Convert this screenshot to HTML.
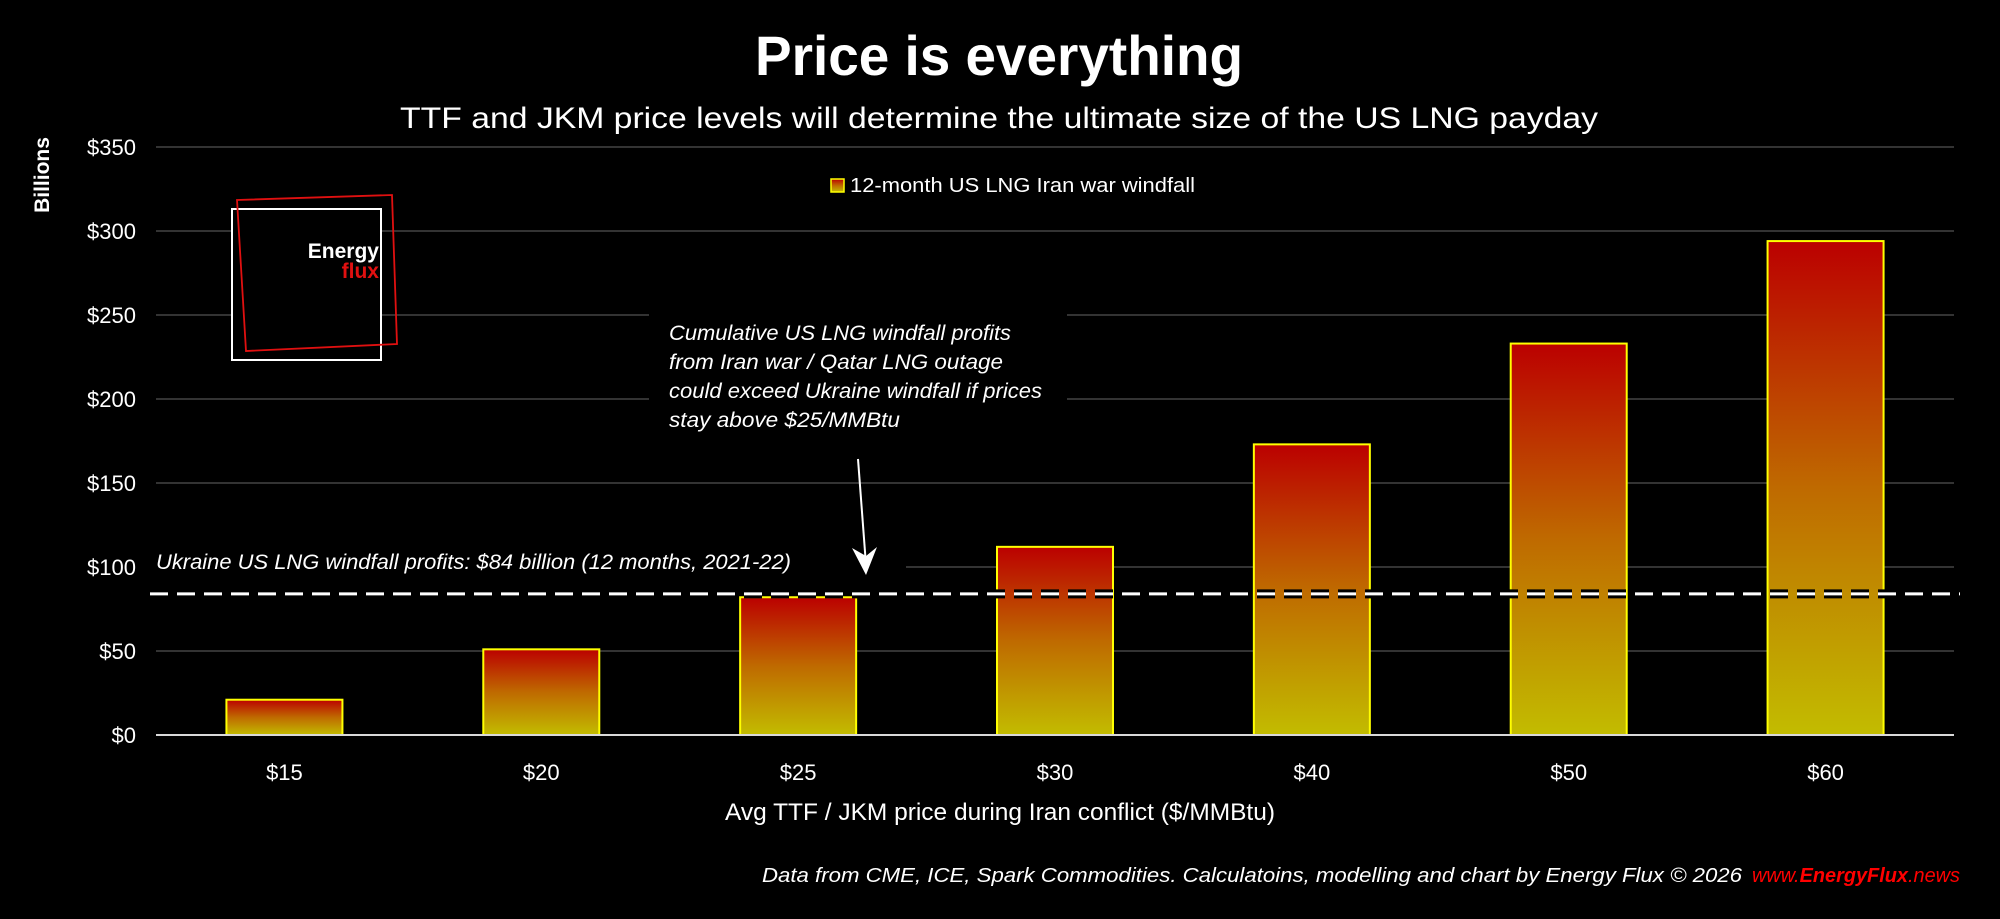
<!DOCTYPE html>
<html><head><meta charset="utf-8"><style>
html,body{margin:0;padding:0;background:#000;}
svg{display:block;}
text{font-family:"Liberation Sans","DejaVu Sans",sans-serif;}
</style></head><body>
<svg id="chart" width="2000" height="919" viewBox="0 0 2000 919" xmlns="http://www.w3.org/2000/svg">
<defs>
<linearGradient id="barGrad" x1="0" y1="0" x2="0" y2="1">
<stop offset="0" stop-color="#bb0000"/>
<stop offset="0.5" stop-color="#bf6a00"/>
<stop offset="1" stop-color="#c2bc00"/>
</linearGradient>
</defs>
<rect x="0" y="0" width="2000" height="919" fill="#000"/>
<text x="999" y="75" text-anchor="middle" font-size="56" font-weight="bold" fill="#fff" textLength="488" lengthAdjust="spacingAndGlyphs">Price is everything</text>
<text x="999" y="128" text-anchor="middle" font-size="30" fill="#fff" textLength="1198" lengthAdjust="spacingAndGlyphs">TTF and JKM price levels will determine the ultimate size of the US LNG payday</text>
<text transform="translate(49,175) rotate(-90)" text-anchor="middle" font-size="21" font-weight="bold" fill="#fff">Billions</text>
<g id="grid"></g>
<g id="yticks"></g>
<g id="bars"></g>
<g id="xticks"></g>
<line x1="156" y1="735" x2="1954" y2="735" stroke="#d9d9d9" stroke-width="2"/>
<g id="refline"></g>
<g>
<rect x="232" y="209" width="149" height="151" fill="#000" stroke="#fff" stroke-width="2"/>
<polygon points="237,200 392,195 397,344 246,351" fill="none" stroke="#e01010" stroke-width="1.8"/>
<text x="379" y="258" text-anchor="end" font-size="21" font-weight="bold" fill="#fff">Energy</text>
<text x="379" y="278" text-anchor="end" font-size="21" font-weight="bold" fill="#e01010">flux</text>
</g>
<rect x="831" y="179" width="13" height="13" fill="url(#barGrad)" stroke="#ffff00" stroke-width="1.5"/>
<text x="850" y="192" font-size="20" fill="#fff" textLength="345" lengthAdjust="spacingAndGlyphs">12-month US LNG Iran war windfall</text>
<g>
<rect x="649" y="300" width="418" height="140" fill="#000"/>
<text font-size="21" font-style="italic" fill="#fff">
<tspan x="669" y="340" textLength="342" lengthAdjust="spacingAndGlyphs">Cumulative US LNG windfall profits</tspan>
<tspan x="669" y="369" textLength="334" lengthAdjust="spacingAndGlyphs">from Iran war / Qatar LNG outage</tspan>
<tspan x="669" y="398" textLength="373" lengthAdjust="spacingAndGlyphs">could exceed Ukraine windfall if prices</tspan>
<tspan x="669" y="427" textLength="231" lengthAdjust="spacingAndGlyphs">stay above $25/MMBtu</tspan>
</text>
</g>
<line x1="858" y1="459" x2="866" y2="565" stroke="#fff" stroke-width="2"/>
<polygon points="852,548 866,575 877,547 866,556" fill="#fff"/>
<text x="1000" y="820" text-anchor="middle" font-size="24" fill="#fff" textLength="550" lengthAdjust="spacingAndGlyphs">Avg TTF / JKM price during Iran conflict ($/MMBtu)</text>
<text x="762" y="882" font-size="20" font-style="italic" fill="#fff" textLength="980" lengthAdjust="spacingAndGlyphs">Data from CME, ICE, Spark Commodities. Calculatoins, modelling and chart by Energy Flux © 2026</text>
<text x="1752" y="882" font-size="20" font-style="italic" fill="#ff0000" textLength="208" lengthAdjust="spacingAndGlyphs">www.<tspan font-weight="bold">EnergyFlux</tspan>.news</text>
</svg>
<script>
const categories = ["$15","$20","$25","$30","$40","$50","$60"];
const windfall = [21, 51, 82, 112, 173, 233, 294];
const yTicks = [0, 50, 100, 150, 200, 250, 300, 350];
const yTickLabels = ["$0","$50","$100","$150","$200","$250","$300","$350"];
const ukraineWindfall = [84];

const NS = "http://www.w3.org/2000/svg";
const plotL = 156, plotR = 1954, y0 = 735, y350 = 147;
const yScale = v => y0 - (v / 350) * (y0 - y350);
const band = (plotR - plotL) / categories.length;
const xCenter = i => plotL + band * (i + 0.5);
const barW = 116;
function mk(tag, attrs, parent){const e=document.createElementNS(NS,tag);for(const k in attrs)e.setAttribute(k,attrs[k]);parent.appendChild(e);return e;}

const grid = document.getElementById('grid');
const yt = document.getElementById('yticks');
yTicks.forEach((v,i)=>{
  if(v>0){
    const g = mk('line',{x1:plotL,x2:plotR,y1:yScale(v),y2:yScale(v),stroke:'#333','stroke-width':2},grid);
    
    
  }
  const t = mk('text',{x:136,y:yScale(v)+8,'text-anchor':'end','font-size':22,fill:'#fff'},yt);
  t.textContent = yTickLabels[i];
  
  
});
const ukBox = mk('rect',{x:156,y:540,width:750,height:40,fill:'#000'},grid);


const uk = mk('text',{x:156,y:569,'font-size':21,'font-style':'italic',fill:'#fff',textLength:635,lengthAdjust:'spacingAndGlyphs'},grid);
uk.textContent = "Ukraine US LNG windfall profits: $84 billion (12 months, 2021-22)";



const bars = document.getElementById('bars');
const xt = document.getElementById('xticks');
windfall.forEach((v,i)=>{
  const b = mk('rect',{x:xCenter(i)-barW/2,y:yScale(v),width:barW,height:y0-yScale(v),fill:'url(#barGrad)',stroke:'#ffff00','stroke-width':2},bars);
  
  
  const t = mk('text',{x:xCenter(i),y:780,'text-anchor':'middle','font-size':22,fill:'#fff'},xt);
  t.textContent = categories[i];
  
  
});

const ref = document.getElementById('refline');
const ry = yScale(ukraineWindfall[0]);
const sh = mk('line',{x1:150,x2:1960,y1:ry,y2:ry,stroke:'#000','stroke-width':9,'stroke-dasharray':'18 9'},ref);


const rl = mk('line',{x1:150,x2:1960,y1:ry,y2:ry,stroke:'#fff','stroke-width':3,'stroke-dasharray':'18 9'},ref);


</script>
</body></html>
